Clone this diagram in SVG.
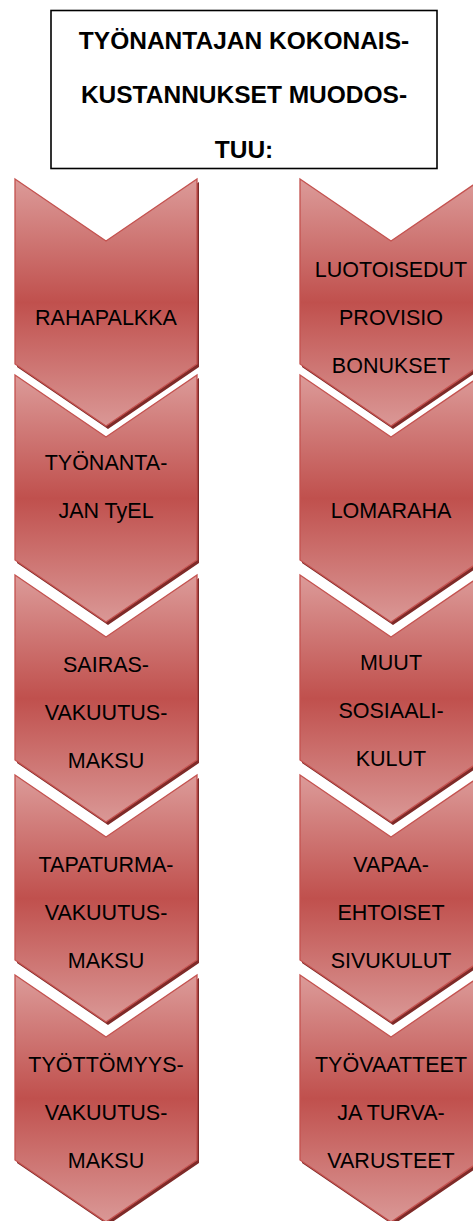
<svg xmlns="http://www.w3.org/2000/svg" width="473" height="1221" viewBox="0 0 473 1221">
<defs>
<linearGradient id="g" x1="0" y1="0" x2="0" y2="1">
<stop offset="0" stop-color="#dc9b99"/>
<stop offset="0.5" stop-color="#c0504d"/>
<stop offset="1" stop-color="#da9896"/>
</linearGradient>
<path id="chL" d="M15,0 L106,62 L197,0 L197,185 L106,247 L15,185 Z"/>
<path id="chR" d="M300,0 L391,62 L482,0 L482,185 L391,247 L300,185 Z"/>
</defs>
<style>
.sh{fill:#7e2a28;}
.ch{fill:url(#g);stroke:#c4524f;stroke-width:1.3;stroke-linejoin:miter;}
.t{font-family:"Liberation Sans",Arial,sans-serif;font-size:21.5px;fill:#000;text-anchor:middle;}
.title{font-family:"Liberation Sans",Arial,sans-serif;font-size:24.5px;font-weight:bold;fill:#000;text-anchor:middle;}
</style>
<rect width="473" height="1221" fill="#fff"/>
<g id="title">
<rect x="51" y="10.5" width="386" height="158" fill="#fff" stroke="#000" stroke-width="1.6"/>
<text class="title" x="244" y="49">TYÖNANTAJAN KOKONAIS-</text>
<text class="title" x="244" y="103">KUSTANNUKSET MUODOS-</text>
<text class="title" x="244" y="158">TUU:</text>
</g>
<g id="rahapalkka" transform="translate(0,179)">
<use href="#chL" class="sh" x="2" y="3"/><use href="#chL" class="ch"/>
<text class="t" x="106" y="146">RAHAPALKKA</text>
</g>
<g id="luotoisedut" transform="translate(0,179)">
<use href="#chR" class="sh" x="2" y="3"/><use href="#chR" class="ch"/>
<text class="t" x="391" y="98">LUOTOISEDUT</text>
<text class="t" x="391" y="146">PROVISIO</text>
<text class="t" x="391" y="194">BONUKSET</text>
</g>
<g id="tyel" transform="translate(0,375)">
<use href="#chL" class="sh" x="2" y="3"/><use href="#chL" class="ch"/>
<text class="t" x="106" y="95">TYÖNANTA-</text>
<text class="t" x="106" y="143">JAN TyEL</text>
</g>
<g id="lomaraha" transform="translate(0,375)">
<use href="#chR" class="sh" x="2" y="3"/><use href="#chR" class="ch"/>
<text class="t" x="391" y="143">LOMARAHA</text>
</g>
<g id="sairas" transform="translate(0,575)">
<use href="#chL" class="sh" x="2" y="3"/><use href="#chL" class="ch"/>
<text class="t" x="106" y="97">SAIRAS-</text>
<text class="t" x="106" y="145">VAKUUTUS-</text>
<text class="t" x="106" y="193">MAKSU</text>
</g>
<g id="sosiaali" transform="translate(0,575)">
<use href="#chR" class="sh" x="2" y="3"/><use href="#chR" class="ch"/>
<text class="t" x="391" y="95">MUUT</text>
<text class="t" x="391" y="143">SOSIAALI-</text>
<text class="t" x="391" y="191">KULUT</text>
</g>
<g id="tapaturma" transform="translate(0,775)">
<use href="#chL" class="sh" x="2" y="3"/><use href="#chL" class="ch"/>
<text class="t" x="106" y="97">TAPATURMA-</text>
<text class="t" x="106" y="145">VAKUUTUS-</text>
<text class="t" x="106" y="193">MAKSU</text>
</g>
<g id="vapaaehtoiset" transform="translate(0,775)">
<use href="#chR" class="sh" x="2" y="3"/><use href="#chR" class="ch"/>
<text class="t" x="391" y="97">VAPAA-</text>
<text class="t" x="391" y="145">EHTOISET</text>
<text class="t" x="391" y="193">SIVUKULUT</text>
</g>
<g id="tyottomyys" transform="translate(0,975)">
<use href="#chL" class="sh" x="2" y="3"/><use href="#chL" class="ch"/>
<text class="t" x="106" y="97">TYÖTTÖMYYS-</text>
<text class="t" x="106" y="145">VAKUUTUS-</text>
<text class="t" x="106" y="193">MAKSU</text>
</g>
<g id="tyovaatteet" transform="translate(0,975)">
<use href="#chR" class="sh" x="2" y="3"/><use href="#chR" class="ch"/>
<text class="t" x="391" y="97">TYÖVAATTEET</text>
<text class="t" x="391" y="145">JA TURVA-</text>
<text class="t" x="391" y="193">VARUSTEET</text>
</g>
</svg>
